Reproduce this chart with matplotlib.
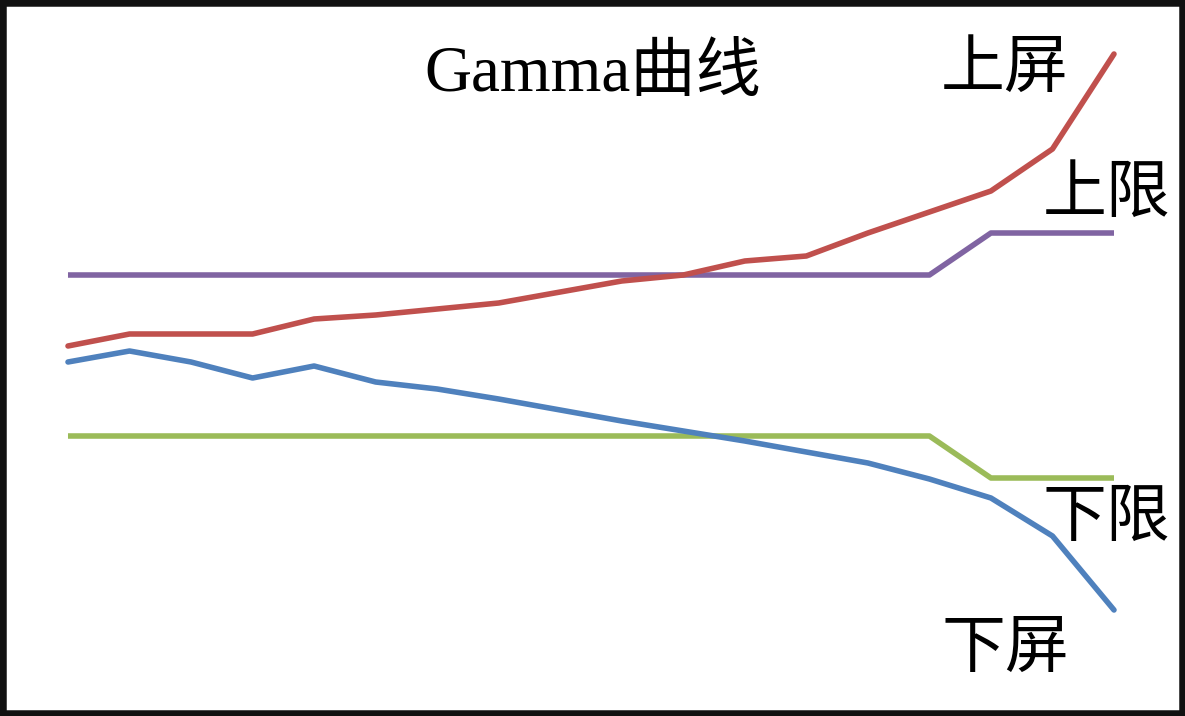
import matplotlib.pyplot as plt

plt.rcParams['font.family'] = ['Liberation Serif', 'Noto Sans CJK SC', 'DejaVu Sans']

# gray level steps
steps = list(range(18))

# curve values (arbitrary units)
upper_screen = [3.70, 3.82, 3.82, 3.82, 3.97, 4.01, 4.07, 4.13, 4.24, 4.35,
                4.41, 4.55, 4.60, 4.83, 5.04, 5.25, 5.67, 6.62]
lower_screen = [3.54, 3.65, 3.54, 3.38, 3.50, 3.34, 3.27, 3.17, 3.06, 2.95,
                2.85, 2.75, 2.64, 2.53, 2.37, 2.18, 1.80, 1.06]
upper_limit = [4.41] * 15 + [4.83] * 3
lower_limit = [2.80] * 15 + [2.38] * 3

labels = ["上屏", "上限", "下限", "下屏"]

fig = plt.figure(figsize=(11.85, 7.16), dpi=100)
ax = fig.add_axes([0, 0, 1, 1])

ax.plot(steps, upper_limit, color="#8064A2", lw=4, solid_capstyle="butt")
ax.plot(steps, lower_limit, color="#9BBB59", lw=4, solid_capstyle="butt")
ax.plot(steps, lower_screen, color="#4F81BD", lw=4, solid_capstyle="round")
ax.plot(steps, upper_screen, color="#C0504D", lw=4, solid_capstyle="round")

ax.set_xlim(-1.105, 18.154)
ax.set_ylim(0, 7.16)
ax.set_xticks([])
ax.set_yticks([])
for s in ax.spines.values():
    s.set_linewidth(9)
    s.set_color("#111111")

fig.text(0.50, 0.895, "Gamma曲线", fontsize=47, ha="center", va="center")
fig.text(0.848, 0.90, labels[0], fontsize=46, ha="center", va="center")
fig.text(0.934, 0.725, labels[1], fontsize=46, ha="center", va="center")
fig.text(0.934, 0.272, labels[2], fontsize=46, ha="center", va="center")
fig.text(0.848, 0.09, labels[3], fontsize=46, ha="center", va="center")

fig.savefig("out.png", dpi=100)
plt.close(fig)
